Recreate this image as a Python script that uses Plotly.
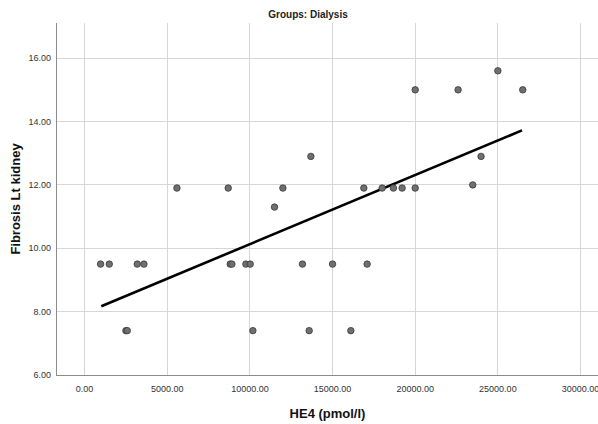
import plotly.graph_objects as go

# Data
he4 = [967, 1493, 2500, 2580, 3186, 3590, 5586, 8688, 8809, 8912, 9758, 10018,
       10181, 11488, 11995, 13180, 13585, 13688, 15000, 16106, 16892, 17092,
       17999, 18683, 19208, 20000, 20000, 22594, 23482, 23984, 25000, 26506]
fibrosis = [9.5, 9.5, 7.4, 7.4, 9.5, 9.5, 11.9, 11.9, 9.5, 9.5, 9.5, 9.5,
            7.4, 11.3, 11.9, 9.5, 7.4, 12.9, 9.5, 7.4, 11.9, 9.5,
            11.9, 11.9, 11.9, 11.9, 15.0, 15.0, 12.0, 12.9, 15.6, 15.0]
fit_x = [1010, 26462]
fit_y = [8.17, 13.72]
x_ticks = [0, 5000, 10000, 15000, 20000, 25000, 30000]
y_ticks = [6, 8, 10, 12, 14, 16]

W, H = 598, 424
ML, MR, MT, MB = 57, 0, 23, 49

tick_font = dict(family="Liberation Sans Narrow, Arial Narrow, Liberation Sans, Arial",
                 size=9, color="#333333")

fig = go.Figure()
fig.add_trace(go.Scatter(
    x=fit_x, y=fit_y, mode="lines",
    line=dict(color="black", width=2.6), hoverinfo="skip", showlegend=False))
fig.add_trace(go.Scatter(
    x=he4, y=fibrosis, mode="markers",
    marker=dict(size=6.5, color="#6f6f6f", line=dict(color="#3a3a3a", width=0.8)),
    showlegend=False))

fig.update_layout(
    width=W, height=H,
    margin=dict(l=ML, r=MR, t=MT, b=MB, pad=0),
    paper_bgcolor="white", plot_bgcolor="white",
    title=dict(text="<b>Groups: Dialysis</b>", x=308 / W, xref="container",
               xanchor="center", y=1 - 14 / H, yref="container", yanchor="middle",
               font=dict(family="Liberation Sans Narrow, Arial Narrow, Liberation Sans, Arial",
                         size=10, color="#222222")),
    font=dict(family="Liberation Sans, Arial"),
)

fig.update_xaxes(
    range=[-1669, 31058], tickvals=x_ticks,
    ticktext=[f"{v:.2f}" for v in x_ticks],
    tickfont=tick_font, ticks="", ticklabelstandoff=5,
    ticklabeloverflow="allow",
    showgrid=True, gridcolor="#d6d6d6", gridwidth=1,
    showline=True, linecolor="#8c8c8c", linewidth=1.3, zeroline=False,
    title=dict(text="<b>HE4 (pmol/l)</b>", standoff=15,
               font=dict(family="Liberation Sans, Arial", size=13, color="#111111")),
)
fig.update_yaxes(
    range=[6, 17.11], tickvals=y_ticks,
    ticktext=[f"{v:.2f}" for v in y_ticks],
    tickfont=tick_font, ticks="", ticklabelstandoff=3,
    showgrid=True, gridcolor="#d6d6d6", gridwidth=1,
    showline=True, linecolor="#8c8c8c", linewidth=1.3, zeroline=False,
    title=dict(text="<b>Fibrosis Lt kidney</b>", standoff=4,
               font=dict(family="Liberation Sans, Arial", size=13, color="#111111")),
)

fig.write_html("out.html")
